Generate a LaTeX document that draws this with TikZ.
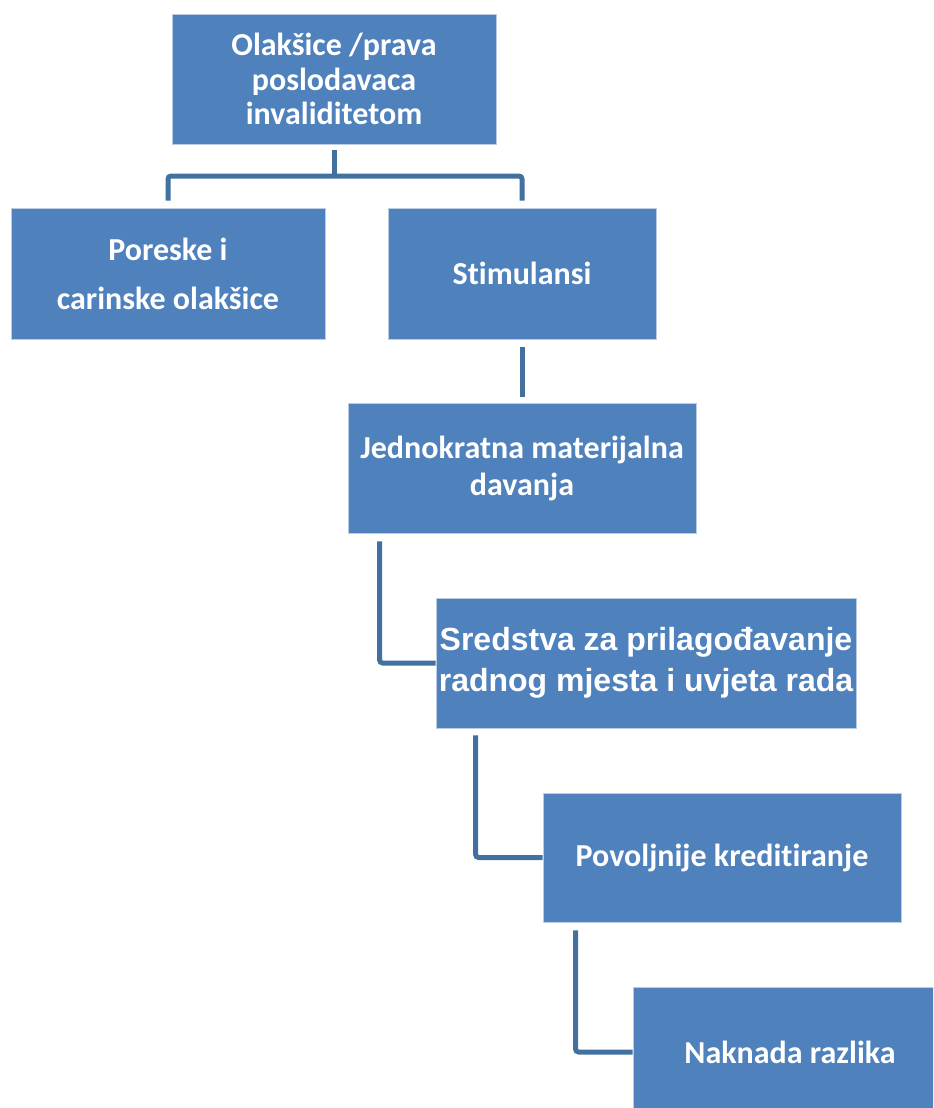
\documentclass[tikz,border=0pt]{standalone}
\usepackage{fontspec}
\setmainfont{Carlito}[Ligatures=NoCommon]
\newfontfamily\arialfont{Liberation Sans}
\usetikzlibrary{positioning, calc}
\definecolor{boxblue}{HTML}{4F81BD}
\definecolor{boxedge}{HTML}{B9CDE5}
\definecolor{lineblue}{HTML}{42709F}
\tikzset{sbox/.style={rectangle, draw=boxedge, line width=0.4pt, fill=boxblue, text=white, align=center, inner sep=0pt, font=\bfseries\fontsize{16}{18.5}\selectfont}}
\tikzset{sline/.style={draw=lineblue, line width=2.5pt, rounded corners=1.5pt}}

\begin{document}
\begin{tikzpicture}[x=0.5pt, y=-0.5pt]
    \clip (0, 0) rectangle (933, 1108);

    % boxes
    \node[sbox, minimum width=162pt, minimum height=65pt, font=\bfseries\fontsize{16}{17.3}\selectfont] (top) at (334, 79) {Olakšice /prava\\poslodavaca\\invaliditetom};
    \node[sbox, minimum width=157pt, minimum height=65.5pt, font=\bfseries\fontsize{16}{24.5}\selectfont] (pores) at (168, 273.5) {Poreske i\\carinske olakšice};
    \node[sbox, minimum width=134pt, minimum height=65.5pt] (stim) at (522, 273.5) {Stimulansi};
    \node[sbox, minimum width=174pt, minimum height=65pt] (jedn) at (522, 468) {Jednokratna materijalna\\davanja};
    \node[sbox, minimum width=210pt, minimum height=65pt, font=\arialfont\bfseries\fontsize{16}{20.5}\selectfont] (sred) at (646, 663) {Sredstva za prilagođavanje\\radnog mjesta i uvjeta rada};
    \node[sbox, minimum width=179pt, minimum height=64.5pt] (povo) at (722, 857.5) {Povoljnije kreditiranje};
    \node[sbox, minimum width=157pt, minimum height=65pt] (nakn) at (790, 1052) {Naknada razlika};

    % connectors
    \coordinate (fork) at ($(top.south)!0.5!(stim.north)$);
    \draw[sline] ([yshift=-3pt]top.south) -- (top.south |- fork);
    \draw[sline] ([yshift=3.5pt]pores.north) -- (pores.north |- fork) -- (stim.north |- fork) -- ([yshift=3.5pt]stim.north);
    \draw[sline] ([yshift=-4pt]stim.south) -- ([yshift=3pt]jedn.north);
    \draw[sline] ([xshift=16pt, yshift=-4pt]jedn.south west) |- (sred.west);
    \draw[sline] ([xshift=20pt, yshift=-3.5pt]sred.south west) |- (povo.west);
    \draw[sline] ([xshift=16.5pt, yshift=-4pt]povo.south west) |- (nakn.west);
\end{tikzpicture}
\end{document}
